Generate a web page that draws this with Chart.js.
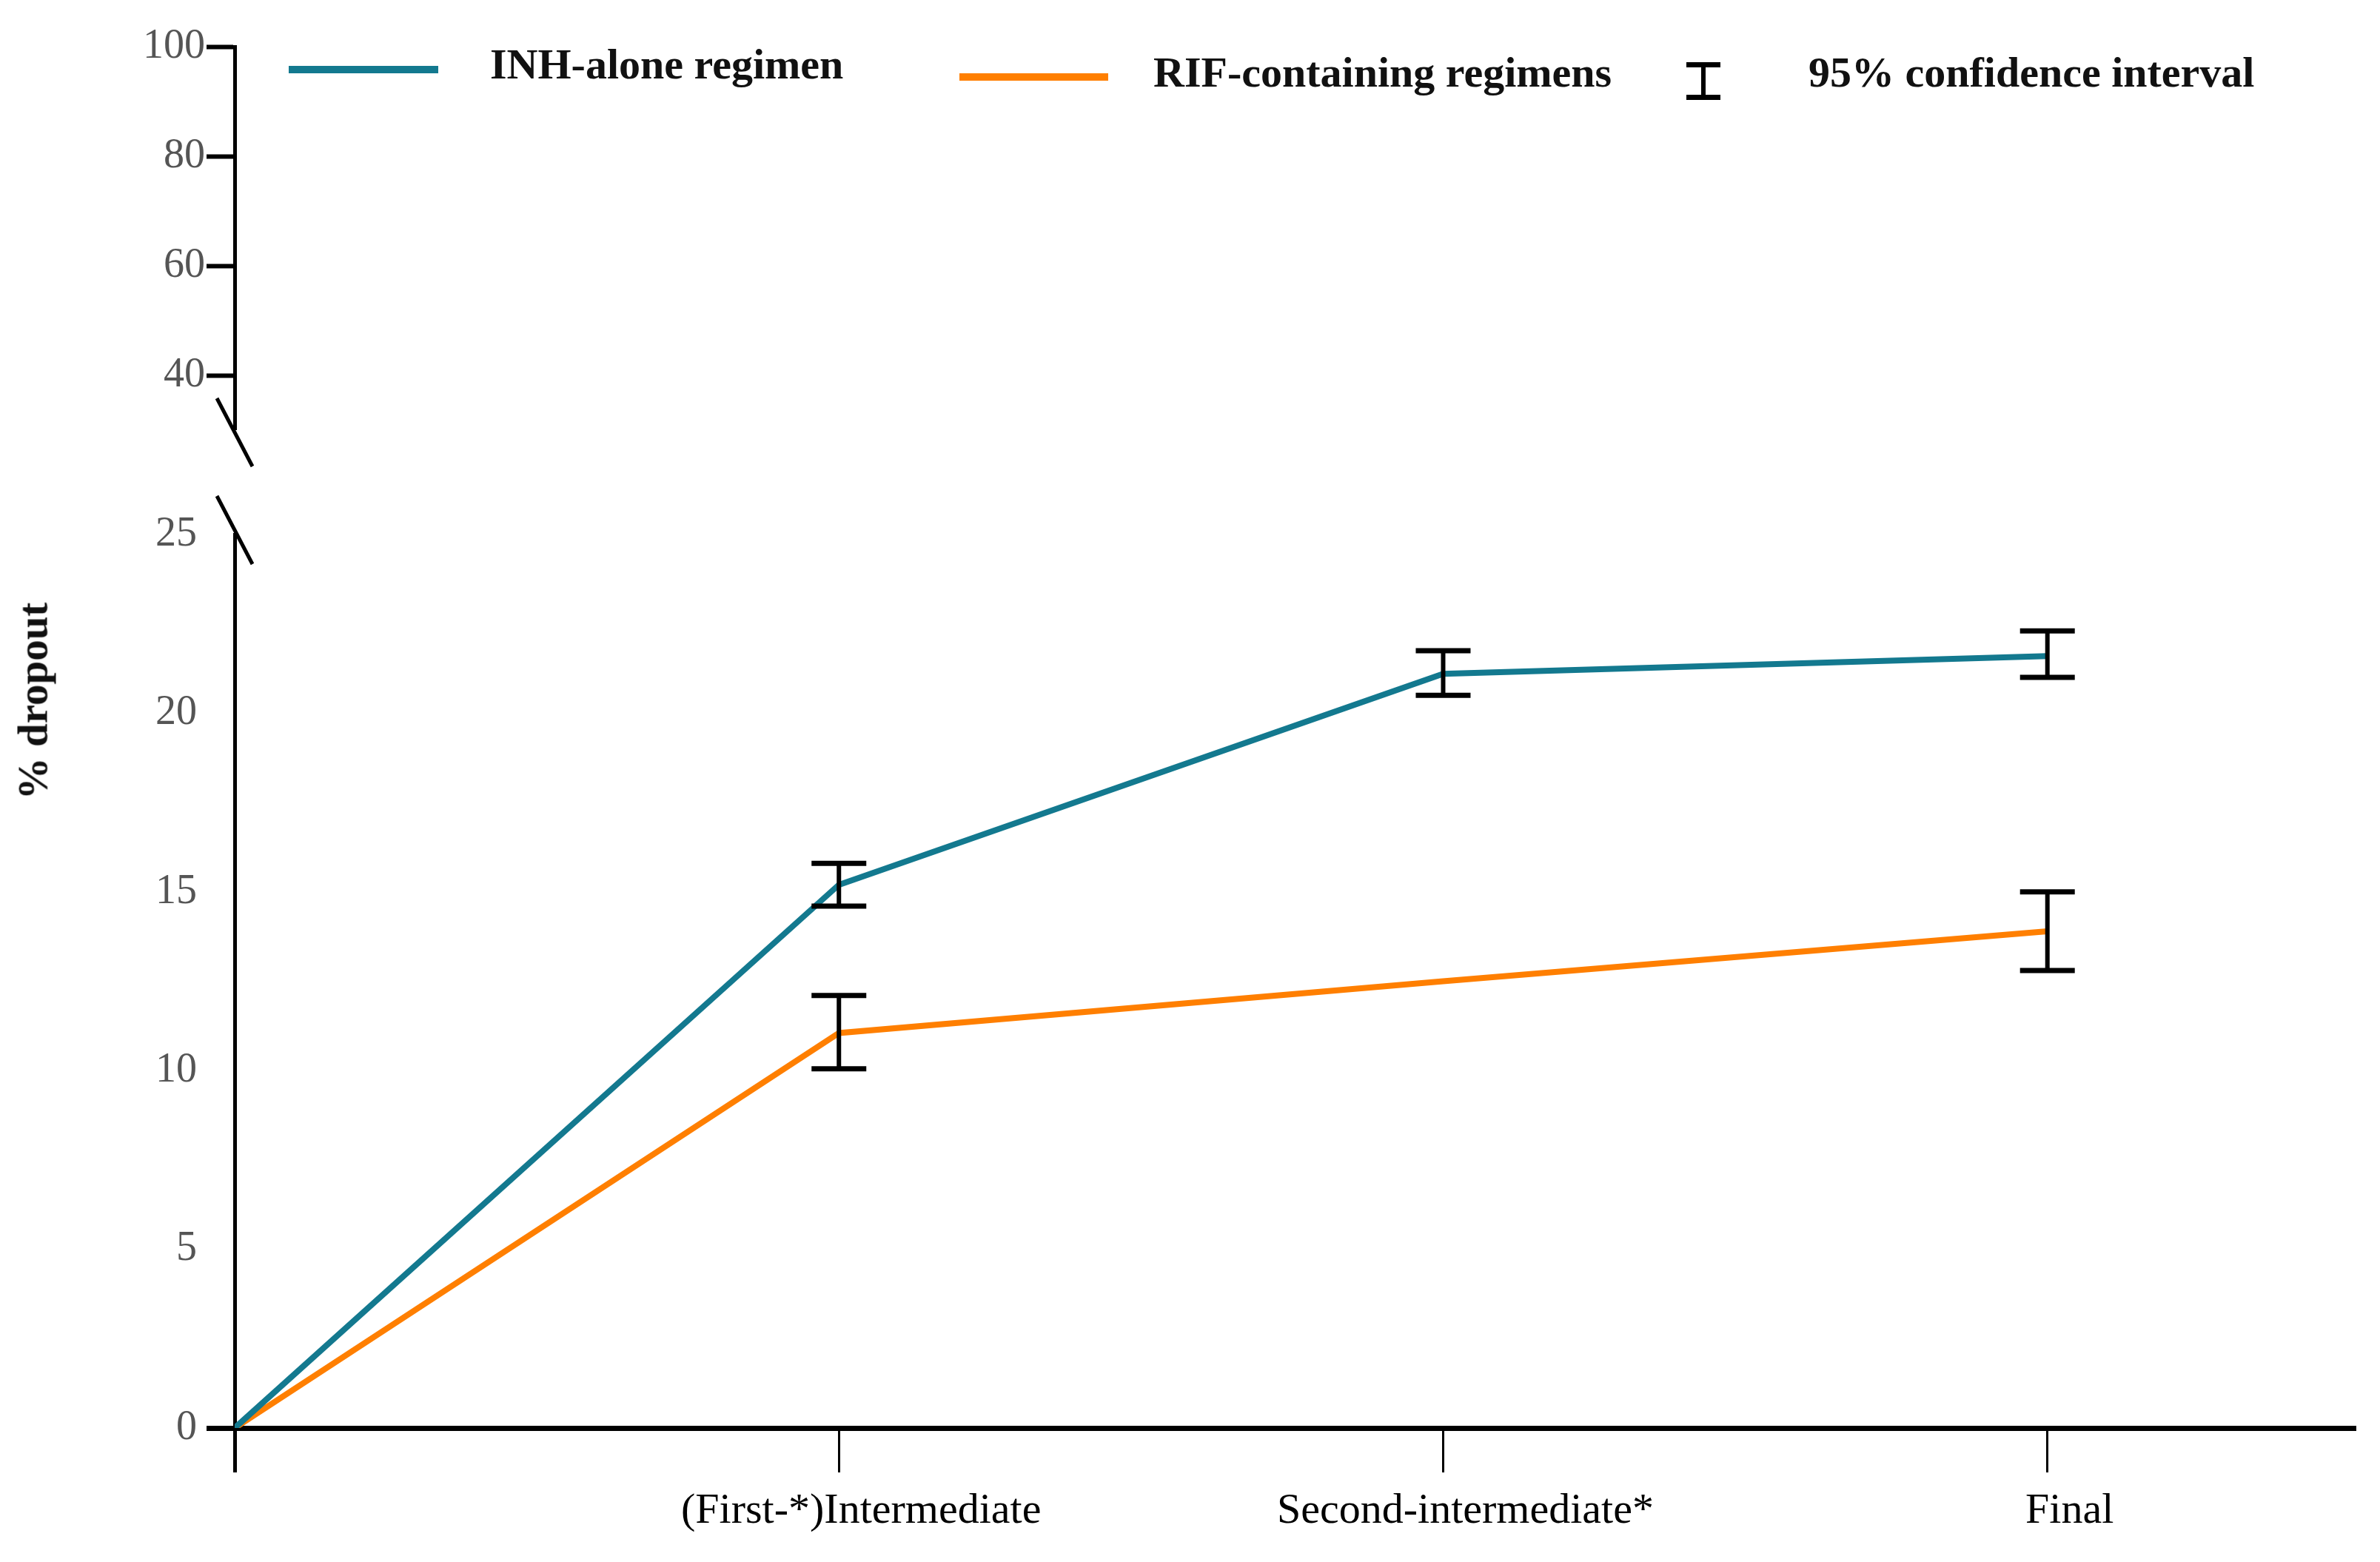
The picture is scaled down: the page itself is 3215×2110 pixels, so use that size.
<!DOCTYPE html>
<html>
<head>
<meta charset="utf-8">
<title>% dropout by stage</title>
<script src="https://cdn.jsdelivr.net/npm/chart.js@4.4.0/dist/chart.umd.min.js"></script>
<style>
  body { margin: 0; background: #fff; }
  #wrap { position: relative; width: 3215px; height: 2110px; font-family: 'Liberation Serif', serif; background: #fff; }
  canvas { position: absolute; left: 0; top: 0; }
  .lg { position: absolute; font-weight: bold; font-size: 58px; line-height: 58px; white-space: nowrap; color: #111; }
  .sw { position: absolute; height: 10px; }
  .ib { position: absolute; background: #000; }
  #ytitle { position: absolute; left: 44px; top: 947px; transform: translate(-50%, -50%) rotate(-90deg);
            font-weight: bold; font-size: 57px; white-space: nowrap; color: #111; }
</style>
</head>
<body>
<div id="wrap">
  <canvas id="lower" width="3215" height="2110"></canvas>
  <canvas id="upper" width="3215" height="2110"></canvas>

  <div class="sw" style="left:390px;top:89px;width:202px;background:#13798f"></div>
  <div class="lg" style="left:662px;top:58px">INH-alone regimen</div>
  <div class="sw" style="left:1296px;top:99px;width:201px;background:#ff7f00"></div>
  <div class="lg" style="left:1558px;top:69px">RIF-containing regimens</div>
  <div class="ib" style="left:2298px;top:87px;width:6px;height:45px"></div>
  <div class="ib" style="left:2278px;top:84px;width:46px;height:7px"></div>
  <div class="ib" style="left:2278px;top:128px;width:46px;height:7px"></div>
  <div class="lg" style="left:2443px;top:69px">95% confidence interval</div>

  <div id="ytitle">% dropout</div>
</div>

<script>
// stages on the x axis (0 = start)
const stageLabels = ['', '(First-*)Intermediate', 'Second-intermediate*', 'Final'];

// % dropout
const inhValues = [0, 15.2, 21.1, 21.6];
const rifValues = [0, 11.05, 12.5, 13.9];

// 95% confidence intervals (null = not shown)
const inhLow  = [null, 14.6, 20.5, 21.0];
const inhHigh = [null, 15.8, 21.75, 22.3];
const rifLow  = [null, 10.05, null, 12.8];
const rifHigh = [null, 12.1, null, 15.0];

// tick values
const lowerTicks = [0, 5, 10, 15, 20, 25];
const upperTicks = [40, 60, 80, 100];

Chart.defaults.font.family = "'Liberation Serif', serif";
Chart.defaults.color = '#555';

const errorBars = {
  id: 'errorBars',
  afterDatasetsDraw(chart) {
    const ctx = chart.ctx, x = chart.scales.x, y = chart.scales.y;
    ctx.save();
    ctx.strokeStyle = '#000';
    [[inhLow, inhHigh], [rifLow, rifHigh]].forEach(pair => {
      const lo = pair[0], hi = pair[1];
      stageLabels.forEach((s, i) => {
        if (lo[i] == null) return;
        const px = x.getPixelForValue(i);
        const top = y.getPixelForValue(hi[i]);
        const bot = y.getPixelForValue(lo[i]);
        ctx.lineWidth = 6;
        ctx.beginPath(); ctx.moveTo(px, top); ctx.lineTo(px, bot); ctx.stroke();
        ctx.lineWidth = 7;
        ctx.beginPath();
        ctx.moveTo(px - 37, top); ctx.lineTo(px + 37, top);
        ctx.moveTo(px - 37, bot); ctx.lineTo(px + 37, bot);
        ctx.stroke();
      });
    });
    ctx.restore();
  }
};

// slash marks for the broken axis
const breakMark = {
  id: 'breakMark',
  afterDraw(chart, args, opts) {
    const ctx = chart.ctx, a = chart.chartArea;
    const cy = opts.end === 'bottom' ? a.bottom + 4 : a.top - 6;
    ctx.save();
    ctx.strokeStyle = '#000';
    ctx.lineWidth = 5;
    ctx.beginPath();
    ctx.moveTo(a.left - 24, cy - 46);
    ctx.lineTo(a.left + 24, cy + 46);
    ctx.stroke();
    ctx.restore();
  }
};

// lower part: the data
new Chart(document.getElementById('lower'), {
  type: 'line',
  data: {
    datasets: [{
      label: 'INH-alone regimen',
      data: inhValues.map((v, i) => ({ x: i, y: v })),
      borderColor: '#13798f',
      borderWidth: 8,
      pointRadius: 0,
      tension: 0
    }, {
      label: 'RIF-containing regimens',
      data: rifValues.map((v, i) => ({ x: i, y: v })),
      borderColor: '#ff7f00',
      borderWidth: 8,
      pointRadius: 0,
      tension: 0
    }]
  },
  options: {
    responsive: false,
    animation: false,
    devicePixelRatio: 1,
    layout: { padding: { top: 722, right: 33, bottom: 0, left: 0 } },
    plugins: { legend: { display: false }, tooltip: { enabled: false }, breakMark: { end: 'top' } },
    scales: {
      x: {
        type: 'linear',
        min: 0,
        max: 3.51,
        afterBuildTicks: s => { s.ticks = stageLabels.map((l, i) => ({ value: i })); },
        afterFit: s => { s.height = 181; },
        border: { color: '#000', width: 7 },
        grid: { drawOnChartArea: false, tickLength: 60, tickColor: '#000',
                tickWidth: c => c.tick && c.tick.value === 0 ? 5 : 3 },
        ticks: { color: '#000', font: { size: 58 }, padding: 18, labelOffset: 30, maxRotation: 0,
                 callback: v => stageLabels[v] }
      },
      y: {
        min: 0,
        max: 25,
        afterBuildTicks: s => { s.ticks = lowerTicks.map(v => ({ value: v })); },
        afterFit: s => { s.width = 317; },
        border: { color: '#000', width: 5 },
        grid: { drawOnChartArea: false, tickLength: 38, tickWidth: 7,
                tickColor: c => c.tick && c.tick.value === 0 ? '#000' : 'rgba(0,0,0,0)' },
        ticks: { color: '#555', font: { size: 56 }, padding: 13 }
      }
    }
  },
  plugins: [errorBars, breakMark]
});

// upper part: the axis above the break
new Chart(document.getElementById('upper'), {
  type: 'line',
  data: { datasets: [] },
  options: {
    responsive: false,
    animation: false,
    devicePixelRatio: 1,
    layout: { padding: { top: 63, right: 33, bottom: 1530, left: 0 } },
    plugins: { legend: { display: false }, tooltip: { enabled: false }, breakMark: { end: 'bottom' } },
    scales: {
      x: { type: 'linear', display: false, min: 0, max: 3.51 },
      y: {
        min: 30.25,
        max: 100,
        afterBuildTicks: s => { s.ticks = upperTicks.map(v => ({ value: v })); },
        afterFit: s => { s.width = 317; },
        border: { color: '#000', width: 5 },
        grid: { drawOnChartArea: false, tickLength: 38, tickWidth: 6, tickColor: '#000' },
        ticks: { color: '#555', font: { size: 56 }, padding: 2 }
      }
    }
  },
  plugins: [breakMark]
});
</script>
</body>
</html>
